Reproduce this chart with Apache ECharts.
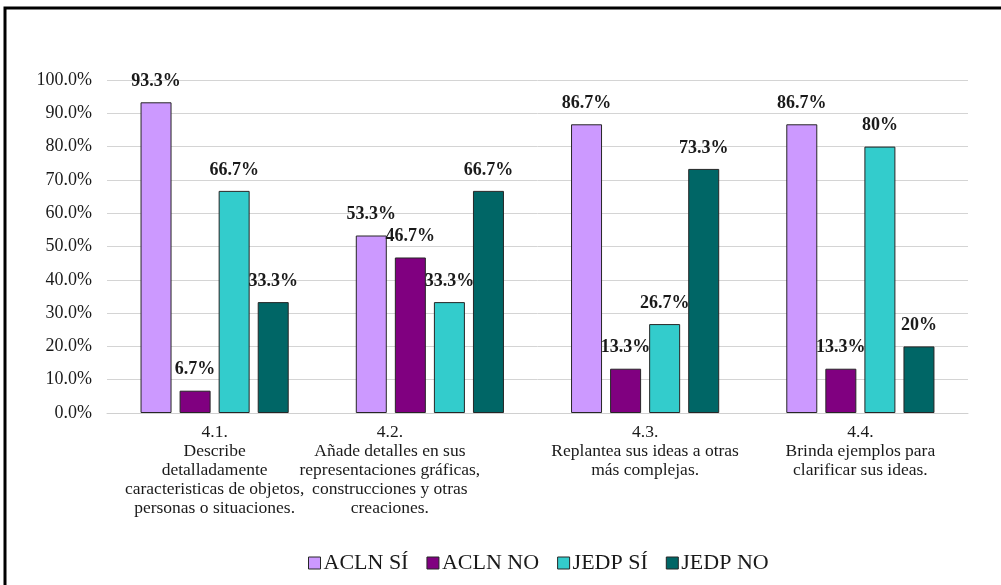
<!DOCTYPE html>
<html>
<head>
<meta charset="utf-8">
<script src="https://cdn.jsdelivr.net/npm/echarts@6/dist/echarts.min.js"></script>
<style>
  html, body { margin: 0; padding: 0; background: #ffffff; overflow: hidden; }
  #chart { width: 1001px; height: 585px; }
</style>
</head>
<body>
<div id="chart"></div>
<script>
// Indicator labels (x axis)
const categories = [
  '4.1.\nDescribe\ndetalladamente\ncaracteristicas de objetos,\npersonas o situaciones.',
  '4.2.\nAñade detalles en sus\nrepresentaciones gráficas,\nconstrucciones y otras\ncreaciones.',
  '4.3.\nReplantea sus ideas a otras\nmás complejas.',
  '4.4.\nBrinda ejemplos para\nclarificar sus ideas.'
];

// Percentages per group
const seriesNames = ['ACLN SÍ', 'ACLN NO', 'JEDP SÍ', 'JEDP NO'];
const aclnSi = [93.3, 53.3, 86.7, 86.7];
const aclnNo = [6.7, 46.7, 13.3, 13.3];
const jedpSi = [66.7, 33.3, 26.7, 80];
const jedpNo = [33.3, 66.7, 73.3, 20];

// Y axis ticks
const yMin = 0;
const yMax = 100;
const yStep = 10;

const colors = ['#CC99FF', '#800080', '#33CCCC', '#006666'];
const serif = '"Liberation Serif", "Times New Roman", serif';

const chart = echarts.init(document.getElementById('chart'), null, { renderer: 'canvas' });

function barSeries(name, data, color) {
  return {
    name: name,
    type: 'bar',
    data: data,
    barWidth: 31,
    barGap: '26%',
    itemStyle: { color: color, borderColor: '#262626', borderWidth: 1 },
    label: {
      show: true,
      position: 'top',
      distance: 12,
      formatter: p => p.value + '%',
      fontFamily: serif,
      fontWeight: 'bold',
      fontSize: 18,
      color: '#1a1a1a'
    }
  };
}

const option = {
  backgroundColor: '#ffffff',
  animation: false,
  color: colors,
  grid: { left: 107, right: 33, top: 80, bottom: 172 },
  legend: {
    data: seriesNames,
    bottom: 6,
    left: 303,
    itemWidth: 12,
    itemHeight: 12,
    itemGap: 18,
    icon: 'rect',
    itemStyle: { borderColor: '#262626', borderWidth: 1 },
    textStyle: { fontFamily: serif, fontSize: 22, color: '#1a1a1a', padding: [0, 0, 0, -2] }
  },
  xAxis: {
    type: 'category',
    data: categories.map((c, i) => i === 1
      ? { value: c, textStyle: { padding: [0, 80, 0, 0] } }
      : c),
    axisLine: { show: true, lineStyle: { color: '#d0d0d0', width: 1 } },
    axisTick: { show: false },
    axisLabel: {
      interval: 0,
      margin: 10,
      fontFamily: serif,
      fontSize: 17.5,
      lineHeight: 19,
      color: '#1a1a1a',
      align: 'center'
    }
  },
  yAxis: {
    type: 'value',
    min: yMin,
    max: yMax,
    interval: yStep,
    axisLine: { show: false },
    axisTick: { show: false },
    splitLine: { lineStyle: { color: '#d4d4d4', width: 1 } },
    axisLabel: {
      margin: 15,
      fontFamily: serif,
      fontSize: 18,
      color: '#1a1a1a',
      formatter: v => v.toFixed(1) + '%'
    }
  },
  // Frame: top and left edges only
  graphic: [{
    type: 'polyline',
    shape: { points: [[5, 600], [5, 8], [1001, 8]] },
    style: { fill: 'none', stroke: '#000000', lineWidth: 3 },
    silent: true
  }],
  series: [
    barSeries(seriesNames[0], aclnSi, colors[0]),
    barSeries(seriesNames[1], aclnNo, colors[1]),
    barSeries(seriesNames[2], jedpSi, colors[2]),
    barSeries(seriesNames[3], jedpNo, colors[3])
  ]
};

chart.setOption(option);
</script>
</body>
</html>
